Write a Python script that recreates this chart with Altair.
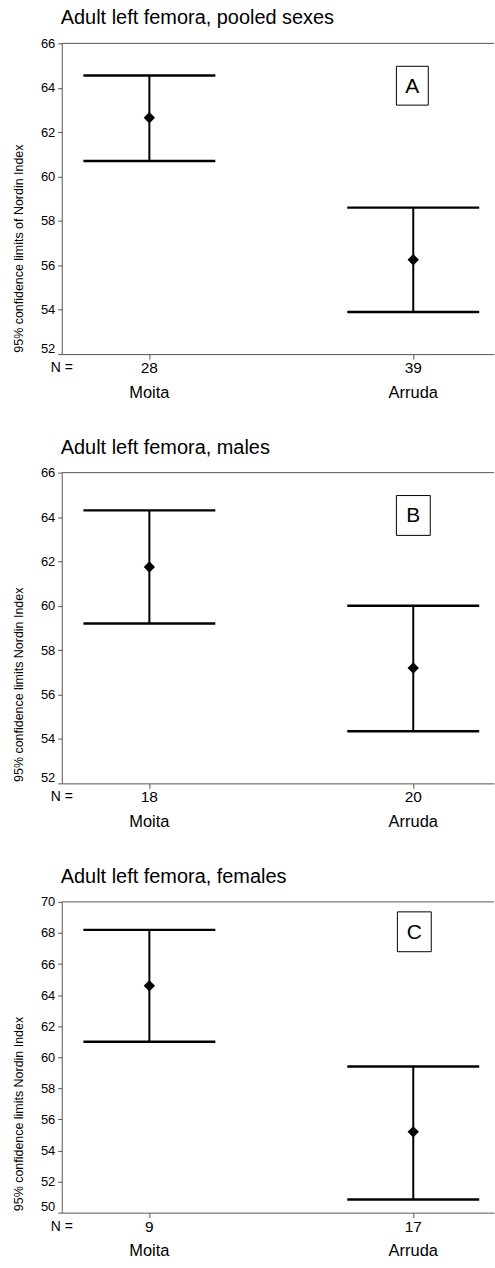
import altair as alt
import pandas as pd

# ---- data ----
groups = ["Moita", "Arruda"]
positions = [1, 2]

titles = ["Adult left femora, pooled sexes", "Adult left femora, males", "Adult left femora, females"]
y_titles = ["95% confidence limits of Nordin Index",
            "95% confidence limits Nordin Index",
            "95% confidence limits Nordin Index"]
letters = ["A", "B", "C"]

n_A = [28, 39]
lower_A = [60.7, 53.9]
mean_A = [62.65, 56.25]
upper_A = [64.55, 58.6]

n_B = [18, 20]
lower_B = [59.2, 54.35]
mean_B = [61.75, 57.2]
upper_B = [64.3, 60.0]

n_C = [9, 17]
lower_C = [61.0, 50.85]
mean_C = [64.6, 55.2]
upper_C = [68.2, 59.4]

ydom_A = [52, 66]
ydom_B = [52, 66]
ydom_C = [50, 70]

W = 434
H = 312
AXIS_COLOR = "#555555"
FONT = "Liberation Sans"


def panel(title, ytitle, letter, n, lower, mean, upper, ydom, box):
    df = pd.DataFrame({"group": groups, "pos": positions, "n": [str(v) for v in n],
                       "lower": lower, "mean": mean, "upper": upper})
    base = alt.Chart(df)
    xs = alt.Scale(domain=[0.668, 2.306], nice=False, zero=False)
    ys = alt.Scale(domain=ydom, nice=False, zero=False)
    x_axis = alt.Axis(values=[1, 2], labels=False, ticks=True, tickSize=5, domain=True,
                      grid=False, title=None, domainColor=AXIS_COLOR, tickColor=AXIS_COLOR)
    y_axis = alt.Axis(values=list(range(ydom[0], ydom[1] + 1, 2)), grid=False,
                      tickSize=4, tickColor=AXIS_COLOR, domainColor=AXIS_COLOR,
                      labelFontSize=13, labelColor="black", labelPadding=3,
                      labelOffset=alt.condition(f"datum.value == {ydom[0]}", alt.value(-6), alt.value(0)),
                      title=ytitle, titleFontSize=12.5, titleFontWeight="normal",
                      titleAngle=270, titleX=-43, titleY=H - 2, titleAlign="left",
                      titleBaseline="middle", titleColor="black")
    X = lambda f: alt.X(f, scale=xs, axis=x_axis)
    Y = lambda f: alt.Y(f, scale=ys, axis=y_axis)

    stems = base.mark_rule(color="black", strokeWidth=2).encode(
        x=X("pos:Q"), y=Y("lower:Q"), y2="upper:Q")
    caps = base.transform_calculate(xl="datum.pos - 0.25", xr="datum.pos + 0.25")
    cap_top = caps.mark_rule(color="black", strokeWidth=2.5).encode(
        x=X("xl:Q"), x2="xr:Q", y=Y("upper:Q"))
    cap_bot = caps.mark_rule(color="black", strokeWidth=2.5).encode(
        x=X("xl:Q"), x2="xr:Q", y=Y("lower:Q"))
    pts = base.mark_point(shape="diamond", filled=True, size=130, color="black", opacity=1).encode(
        x=X("pos:Q"), y=Y("mean:Q"))
    nlab = base.mark_text(fontSize=15.5, baseline="middle", color="black").encode(
        x=X("pos:Q"), y=alt.value(H + 14), text="n:N")
    names = base.mark_text(fontSize=16.5, baseline="middle", color="black").encode(
        x=X("pos:Q"), y=alt.value(H + 39), text="group:N")

    one = alt.Chart(pd.DataFrame({"title": [title], "neq": ["N ="], "letter": [letter]}))
    neq = one.mark_text(fontSize=14, baseline="middle", color="black").encode(
        x=alt.value(0), y=alt.value(H + 14), text="neq:N")
    ttl = one.mark_text(fontSize=20, align="left", baseline="middle", color="black").encode(
        x=alt.value(-1), y=alt.value(-25), text="title:N")
    top = one.mark_rule(color=AXIS_COLOR, strokeWidth=1).encode(
        x=alt.value(0), x2=alt.value(W), y=alt.value(0))
    rect = one.mark_rect(fill="white", stroke="black", strokeWidth=1).encode(
        x=alt.value(box[0]), x2=alt.value(box[1]), y=alt.value(box[2]), y2=alt.value(box[3]))
    let = one.mark_text(fontSize=21, baseline="middle", color="black").encode(
        x=alt.value((box[0] + box[1]) / 2), y=alt.value((box[2] + box[3]) / 2 + 1), text="letter:N")

    return alt.layer(top, stems, cap_top, cap_bot, pts, nlab, names, neq, ttl, rect, let).properties(
        width=W, height=H)


pa = panel(titles[0], y_titles[0], letters[0], n_A, lower_A, mean_A, upper_A, ydom_A, (336, 368, 23, 62))
pb = panel(titles[1], y_titles[1], letters[1], n_B, lower_B, mean_B, upper_B, ydom_B, (336, 370, 23, 63))
pc = panel(titles[2], y_titles[2], letters[2], n_C, lower_C, mean_C, upper_C, ydom_C, (337, 371, 10, 50))

chart = alt.vconcat(pa, pb, pc, spacing=119, bounds="flush").properties(
    padding={"left": 12, "top": 6, "right": 0, "bottom": 0}
).configure(font=FONT).configure_view(stroke=None)

chart.save("out.html", embed_options={"renderer": "svg", "actions": False})
